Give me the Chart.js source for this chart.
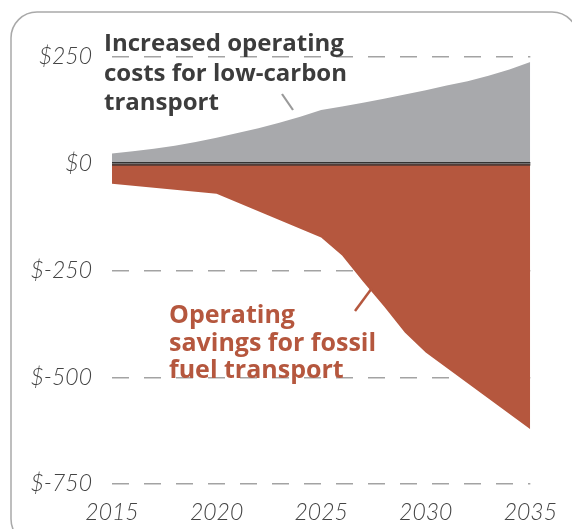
<!DOCTYPE html>
<html>
<head>
<meta charset="utf-8">
<script src="https://cdn.jsdelivr.net/npm/chart.js@4/dist/chart.umd.min.js"></script>
<style>
html,body{margin:0;padding:0;background:#fff;}
#wrap{width:572px;height:529px;position:relative;}
</style>
</head>
<body>
<div id="wrap"><canvas id="c" width="572" height="529"></canvas></div>
<script>
// ---- data ----
const grayYears  = [2015,2016,2017,2018,2019,2020,2021,2022,2023,2024,2025,2026,2027,2028,2029,2030,2031,2032,2033,2034,2035];
const grayValues = [24,29,35,42,51,61,72,83,96,110,126,134,143,152,162,172,183,193,206,221,238];
const redYears   = [2015,2020,2025,2026,2027,2028,2029,2030,2035];
const redValues  = [-47,-70,-173,-215,-276,-334,-395,-442,-622];
const yTicks     = [250,0,-250,-500,-750];
const xTicks     = [2015,2020,2025,2030,2035];
const grayLabel  = ['Increased operating','costs for low-carbon','transport'];
const redLabel   = ['Operating','savings for fossil','fuel transport'];

const GRAY = '#a8a9ac';
const RED  = '#b5573e';
const TXT  = '#444444';

function pts(xs, ys){ return xs.map((x,i)=>({x:x, y:ys[i]})); }

const overlay = {
  id:'overlay',
  afterDatasetsDraw(chart){
    const ctx = chart.ctx, ca = chart.chartArea, y = chart.scales.y;
    const y0 = Math.round(y.getPixelForValue(0));
    ctx.save();
    ctx.fillStyle = '#333';
    ctx.fillRect(ca.left, y0-2, ca.right-ca.left, 1.3);
    ctx.fillStyle = '#666';
    ctx.fillRect(ca.left, y0-0.7, ca.right-ca.left, 1);
    ctx.fillStyle = '#333';
    ctx.fillRect(ca.left, y0+0.3, ca.right-ca.left, 1.3);
    ctx.restore();
  },
  afterDraw(chart){
    const ctx = chart.ctx;
    ctx.save();
    // frame
    ctx.strokeStyle = '#a9a9a9';
    ctx.lineWidth = 1.5;
    ctx.beginPath();
    ctx.roundRect(11, 12, 567, 533, 26);
    ctx.stroke();
    // annotation texts
    ctx.textBaseline = 'alphabetic';
    ctx.textAlign = 'left';
    ctx.font = '700 24px "Open Sans"';
    ctx.fillStyle = '#3c3c3c';
    grayLabel.forEach((t,i)=>ctx.fillText(t, 104, 51 + i*29.5));
    ctx.font = '700 25px "Open Sans"';
    ctx.fillStyle = RED;
    redLabel.forEach((t,i)=>ctx.fillText(t, 169, 323 + i*27.5));
    // leader lines
    ctx.lineCap = 'butt';
    ctx.strokeStyle = '#9a9a9a';
    ctx.lineWidth = 2.2;
    ctx.beginPath(); ctx.moveTo(282, 94); ctx.lineTo(293, 110); ctx.stroke();
    ctx.strokeStyle = RED;
    ctx.lineWidth = 2.5;
    ctx.beginPath(); ctx.moveTo(355, 311); ctx.lineTo(372, 288); ctx.stroke();
    ctx.restore();
  }
};

new Chart(document.getElementById('c'), {
  type:'line',
  data:{
    datasets:[
      {data:pts(grayYears, grayValues), fill:'origin', backgroundColor:GRAY, borderWidth:0, pointRadius:0, tension:0},
      {data:pts(redYears, redValues), fill:'origin', backgroundColor:RED, borderWidth:0, pointRadius:0, tension:0}
    ]
  },
  options:{
    responsive:false,
    animation:false,
    events:[],
    layout:{padding:{left:0, right:32, top:57, bottom:0}},
    plugins:{legend:{display:false}, tooltip:{enabled:false}, title:{display:false}},
    scales:{
      x:{
        type:'linear', min:2015, max:2035,
        afterBuildTicks(s){ s.ticks = xTicks.map(v=>({value:v})); },
        afterFit(s){ s.height = 45; },
        grid:{display:false, drawTicks:false},
        border:{display:false},
        ticks:{padding:15, color:TXT, font:{family:'Lato', style:'italic', weight:300, size:23}, callback:v=>String(v), maxRotation:0, autoSkip:false}
      },
      y:{
        min:-750, max:250,
        afterBuildTicks(s){ s.ticks = yTicks.slice().reverse().map(v=>({value:v})); },
        afterFit(s){ s.width = 112; },
        grid:{drawTicks:false, lineWidth:1.5, color:(c)=> (c.tick && c.tick.value===0) ? 'rgba(0,0,0,0)' : '#a3a3a3'},
        border:{display:false, dash:[17,15]},
        ticks:{padding:20, color:TXT, font:{family:'Lato', style:'italic', weight:300, size:23}, callback:v=>'$'+v}
      }
    }
  },
  plugins:[overlay]
});
</script>
</body>
</html>
